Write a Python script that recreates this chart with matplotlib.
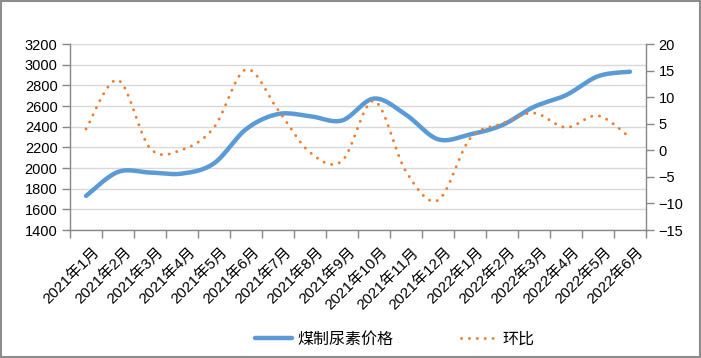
import numpy as np
import matplotlib
matplotlib.use("Agg")
import matplotlib.pyplot as plt
import matplotlib.transforms as mtrans
from matplotlib.patches import Rectangle
from matplotlib.lines import Line2D

plt.rcParams['font.family'] = ['Liberation Sans', 'Noto Sans CJK SC']

months = ['2021年1月', '2021年2月', '2021年3月', '2021年4月', '2021年5月', '2021年6月',
          '2021年7月', '2021年8月', '2021年9月', '2021年10月', '2021年11月', '2021年12月',
          '2022年1月', '2022年2月', '2022年3月', '2022年4月', '2022年5月', '2022年6月']
price = [1730, 1962, 1956, 1946, 2045, 2375, 2522, 2502, 2460, 2672, 2515, 2278,
         2325, 2414, 2592, 2705, 2888, 2932]
mom = [4.0, 13.2, 0.4, 0.1, 4.3, 15.2, 7.6, -0.4, -2.0, 9.3, -4.0, -9.4,
       2.2, 5.0, 7.0, 4.3, 6.5, 2.4]

BLUE = '#5B9BD5'
ORANGE = '#ED7D31'
GRID = '#D9D9D9'
AXC = '#868686'
DOTS = (0, (0.05, 2.65))


def smooth(x, y, steps=40):
    # excel style smoothed line: catmull-rom segments as cubic bezier
    pts = np.column_stack([x, y]).astype(float)
    n = len(pts)
    t = np.linspace(0, 1, steps)[:, None]
    out = [pts[:1]]
    for i in range(n - 1):
        p0 = pts[i - 1] if i > 0 else pts[i]
        p1 = pts[i]
        p2 = pts[i + 1]
        p3 = pts[i + 2] if i + 2 < n else pts[i + 1]
        c1 = p1 + (p2 - p0) / 6
        c2 = p2 - (p3 - p1) / 6
        seg = ((1 - t) ** 3 * p1 + 3 * (1 - t) ** 2 * t * c1
               + 3 * (1 - t) * t ** 2 * c2 + t ** 3 * p2)
        out.append(seg[1:])
    out = np.vstack(out)
    return out[:, 0], out[:, 1]


fig = plt.figure(figsize=(7.01, 3.58), dpi=100)
fig.patches.append(Rectangle((0.001, 0.002), 0.997, 0.995, transform=fig.transFigure,
                             fill=False, ec='#8C8C8C', lw=1.5))

ax = fig.add_axes([70 / 701, 1 - 230 / 358, 576 / 701, 186 / 358])
ax2 = ax.twinx()

x = np.arange(len(months))
sx, sy = smooth(x, price)
ax.plot(sx, sy, color=BLUE, lw=3.2, solid_capstyle='round', zorder=3)
sx, sy = smooth(x, mom)
ax2.plot(sx, sy, color=ORANGE, lw=2.1, ls=DOTS, dash_capstyle='round', zorder=3)

ax.set_xlim(-0.5, len(months) - 0.5)
ax.set_ylim(1400, 3200)
ax.set_yticks(np.arange(1400, 3201, 200))
ax2.set_ylim(-15, 20)
ax2.set_yticks(np.arange(-15, 21, 5))

ax.yaxis.grid(True, color=GRID, lw=1)
ax.set_axisbelow(True)

ax.set_xticks(np.arange(-0.5, len(months)), minor=False)
ax.set_xticklabels([])
ax.set_xticks(x, minor=True)
ax.set_xticklabels(months, minor=True, rotation=45, ha='right', va='top',
                   rotation_mode='anchor', fontsize=11)
ax.tick_params(axis='x', which='minor', length=0, pad=11)
ax.tick_params(axis='x', which='major', length=6, color=AXC, width=1)
shift = mtrans.ScaledTranslation(6 / 100, 0, fig.dpi_scale_trans)
for lab in ax.get_xticklabels(minor=True):
    lab.set_transform(lab.get_transform() + shift)

ax.tick_params(axis='y', length=6, color=AXC, width=1, labelsize=10.5, pad=3)
ax2.tick_params(axis='y', length=6, color=AXC, width=1, labelsize=10.5, pad=3)

for a in (ax, ax2):
    a.spines['top'].set_visible(False)
    for s in ('left', 'right', 'bottom'):
        a.spines[s].set_color(AXC)
        a.spines[s].set_linewidth(1)
ax.spines['right'].set_visible(False)
ax2.spines['left'].set_visible(False)
ax2.spines['bottom'].set_visible(False)

handles = [Line2D([], [], color=BLUE, lw=3.2, solid_capstyle='round'),
           Line2D([], [], color=ORANGE, lw=2.1, ls=DOTS, dash_capstyle='round')]
fig.legend(handles, ['煤制尿素价格', '环比'], loc='center', bbox_to_anchor=(395 / 701, 1 - 339 / 358),
           ncol=2, frameon=False, fontsize=11.5, handlelength=2.3, columnspacing=4.2,
           handletextpad=0.35)

fig.savefig('out.png', dpi=100)
